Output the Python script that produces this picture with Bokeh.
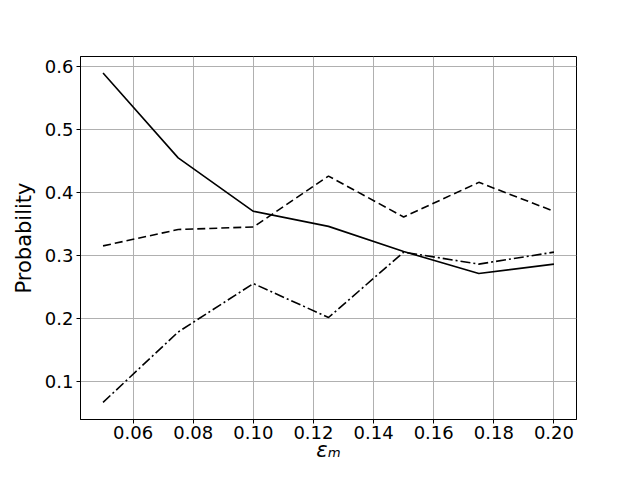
from bokeh.plotting import figure
from bokeh.models import Range1d, FixedTicker, NumeralTickFormatter, ColumnDataSource
from bokeh.embed import file_html
from bokeh.resources import INLINE

eps = [0.05, 0.075, 0.10, 0.125, 0.15, 0.175, 0.20]
solid_vals = [0.59, 0.455, 0.37, 0.346, 0.306, 0.271, 0.286]
dashed_vals = [0.315, 0.341, 0.345, 0.426, 0.361, 0.416, 0.370]
dashdot_vals = [0.066, 0.178, 0.255, 0.201, 0.305, 0.286, 0.305]
x_ticks = [0.06, 0.08, 0.10, 0.12, 0.14, 0.16, 0.18, 0.20]
y_ticks = [0.1, 0.2, 0.3, 0.4, 0.5, 0.6]
x_min, x_max = 0.0425, 0.2075
y_min, y_max = 0.03875, 0.61625

FONT = "DejaVu Sans"

p = figure(width=624, height=464, output_backend="svg", toolbar_location=None,
           x_range=Range1d(x_min, x_max), y_range=Range1d(y_min, y_max),
           min_border_left=80, min_border_top=56, min_border_right=48, min_border_bottom=10)
p.background_fill_color = "white"
p.border_fill_color = "white"
p.outline_line_color = "black"
p.outline_line_width = 1

src = ColumnDataSource(dict(x=eps, a=solid_vals, b=dashed_vals, c=dashdot_vals))
p.line("x", "a", source=src, line_color="black", line_width=1.6)
p.line("x", "b", source=src, line_color="black", line_width=1.6, line_dash="8 4")
p.line("x", "c", source=src, line_color="black", line_width=1.6, line_dash="10 3 2 3")

for ax in (p.xaxis, p.yaxis):
    ax.major_label_text_font = FONT
    ax.major_label_text_font_size = "18px"
    ax.major_label_text_color = "black"
    ax.axis_label_text_font = FONT
    ax.axis_label_text_font_size = "21px"
    ax.axis_label_text_color = "black"
    ax.axis_line_color = "black"
    ax.major_tick_line_color = "black"
    ax.major_tick_in = 0
    ax.major_tick_out = 4
    ax.minor_tick_line_color = None
    ax.major_label_standoff = 3

p.xaxis.ticker = FixedTicker(ticks=x_ticks)
p.yaxis.ticker = FixedTicker(ticks=y_ticks)
p.xaxis.formatter = NumeralTickFormatter(format="0.00")
p.yaxis.formatter = NumeralTickFormatter(format="0.0")
p.xaxis.major_label_standoff = 2
p.xaxis.axis_label = "εₘ"
p.xaxis.axis_label_text_font_style = "italic"
p.xaxis.axis_label_standoff = -4
p.yaxis.axis_label = "Probability"
p.yaxis.axis_label_text_font_style = "normal"
p.yaxis.axis_label_standoff = 6

p.xgrid.ticker = FixedTicker(ticks=x_ticks)
p.ygrid.ticker = FixedTicker(ticks=y_ticks)
p.grid.grid_line_color = "#b0b0b0"
p.grid.grid_line_width = 1

open("out.html", "w").write(file_html(p, INLINE))
